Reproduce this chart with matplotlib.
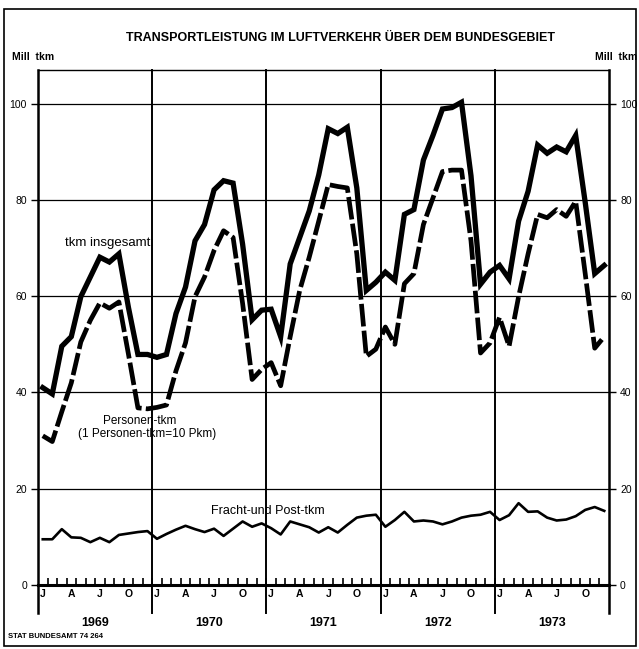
import matplotlib
matplotlib.use("Agg")
import matplotlib.pyplot as plt
import matplotlib.transforms as mtransforms
from matplotlib.patches import Rectangle

plt.rcParams["font.family"] = ["Liberation Sans", "DejaVu Sans"]

# monthly values Jan 1969 .. Dec 1973 (Mill tkm)
years = [1969, 1970, 1971, 1972, 1973]
month_labels = ["J", "A", "J", "O"]

tkm_insgesamt = [
    41.0, 39.7, 49.6, 51.6, 59.9, 64.0, 68.1, 67.1, 68.8, 57.7, 47.9, 47.9,
    47.3, 47.9, 56.4, 61.9, 71.5, 74.9, 82.1, 84.0, 83.5, 70.8, 55.1, 57.1,
    57.3, 51.6, 66.7, 72.2, 77.7, 85.2, 94.8, 93.8, 95.1, 82.5, 61.2, 62.9,
    65.0, 63.3, 77.0, 78.0, 88.3, 93.4, 98.9, 99.2, 100.3, 85.0, 62.5, 65.0,
    66.4, 63.6, 75.6, 81.8, 91.4, 89.7, 91.0, 90.0, 93.4, 79.5, 64.7, 66.4,
]
personen_tkm = [
    31.0, 29.8, 36.0, 42.0, 50.5, 55.0, 58.6, 57.5, 58.8, 48.0, 36.8, 36.6,
    36.9, 37.4, 44.5, 50.3, 59.9, 64.0, 69.5, 73.6, 72.2, 58.5, 42.7, 44.8,
    46.2, 41.4, 51.6, 61.2, 68.1, 75.6, 83.2, 82.8, 82.5, 68.8, 47.5, 49.0,
    53.6, 50.0, 62.6, 64.7, 74.9, 80.4, 85.9, 86.2, 86.2, 71.5, 48.2, 50.3,
    55.6, 49.6, 59.9, 68.8, 77.0, 76.3, 78.0, 76.6, 79.7, 64.7, 49.2, 51.6,
]
fracht_post_tkm = [
    9.5, 9.5, 11.6, 9.9, 9.8, 8.9, 9.8, 8.9, 10.4, 10.7, 11.0, 11.2,
    9.6, 10.6, 11.5, 12.3, 11.6, 11.0, 11.7, 10.2, 11.7, 13.2, 12.1, 12.8,
    11.8, 10.5, 13.2, 12.6, 12.0, 10.9, 12.0, 10.9, 12.5, 14.0, 14.4, 14.6,
    12.1, 13.5, 15.2, 13.2, 13.4, 13.2, 12.6, 13.2, 14.0, 14.4, 14.6, 15.2,
    13.5, 14.5, 17.0, 15.2, 15.3, 14.0, 13.4, 13.6, 14.3, 15.6, 16.2, 15.4,
]

W, H = 639, 649
fig = plt.figure(figsize=(W / 100, H / 100), dpi=100)
ax = fig.add_axes([38 / W, 1 - 585 / H, (609 - 38) / W, (585 - 70) / H])

n = len(tkm_insgesamt)
x = list(range(n))

ax.set_xlim(-0.5, n - 0.5)
ax.set_ylim(0, 107)

# grid
for v in range(20, 101, 20):
    ax.axhline(v, color="black", lw=0.9, zorder=1)
ext = -28 / 515
for k in range(1, len(years)):
    ax.axvline(12 * k - 0.5, ymin=ext, ymax=1, color="black", lw=1.4, clip_on=False, zorder=1)
for side in ("left", "right"):
    ax.spines[side].set_visible(False)
ax.axvline(-0.5, ymin=ext, ymax=1, color="black", lw=1.8, clip_on=False, zorder=1)
ax.axvline(n - 0.5, ymin=ext, ymax=1, color="black", lw=1.8, clip_on=False, zorder=1)
ax.spines["bottom"].set_linewidth(2.2)
ax.spines["top"].set_linewidth(1.0)

# series
ax.plot(x, tkm_insgesamt, color="black", lw=3.8, solid_joinstyle="miter", zorder=3)
ax.plot(x, personen_tkm, color="black", lw=3.4, dashes=(4.8, 0.9), zorder=3)
ax.plot(x, fracht_post_tkm, color="black", lw=1.9, zorder=3)

# y axis both sides
ax.set_yticks(range(0, 101, 20))
ax.tick_params(axis="y", which="both", left=True, right=True, labelleft=True, labelright=True,
               direction="out", length=5, width=1, labelsize=7.5, pad=3)

# month ticks / labels
ax.set_xticks([m - 0.5 for m in range(1, n)], minor=True)
ax.tick_params(axis="x", which="minor", direction="in", length=5, width=1.2, bottom=True, top=False)
ax.set_xticks([12 * y + m for y in range(len(years)) for m in (0, 3, 6, 9)])
ax.set_xticklabels(month_labels * len(years))
ax.tick_params(axis="x", which="major", length=0, labelsize=7.5, pad=3)
for lab in ax.get_xticklabels():
    lab.set_fontweight("bold")

trans = mtransforms.blended_transform_factory(ax.transData, ax.transAxes)
for k, yr in enumerate(years):
    ax.text(12 * k + 5.5, -38 / 515, str(yr), transform=trans, ha="center", va="center",
            fontsize=9, fontweight="bold")

# labels inside
ax.text(6.8, 71.0, "tkm insgesamt", ha="center", va="center", fontsize=9.5)
ax.text(10.2, 34.0, "Personen-tkm", ha="center", va="center", fontsize=8.5)
ax.text(11.0, 31.4, "(1 Personen-tkm=10 Pkm)", ha="center", va="center", fontsize=8.5)
ax.text(23.7, 15.3, "Fracht-und Post-tkm", ha="center", va="center", fontsize=9)

# figure texts
fig.text(340 / W, 1 - 38 / H, "TRANSPORTLEISTUNG IM LUFTVERKEHR ÜBER DEM BUNDESGEBIET",
         ha="center", va="center", fontsize=9, fontweight="bold")
fig.text(12 / W, 1 - 57 / H, "Mill  tkm", ha="left", va="center", fontsize=7.5, fontweight="bold")
fig.text(637 / W, 1 - 57 / H, "Mill  tkm", ha="right", va="center", fontsize=7.5, fontweight="bold")
fig.text(8 / W, 1 - 636 / H, "STAT BUNDESAMT 74 264", ha="left", va="center", fontsize=5.5,
         fontweight="bold")

# outer frame
fig.patches.append(Rectangle((4 / W, 1 - 646 / H), 632 / W, 637 / H, transform=fig.transFigure,
                             fill=False, edgecolor="black", lw=1.2))

fig.savefig("out.png", dpi=100)
